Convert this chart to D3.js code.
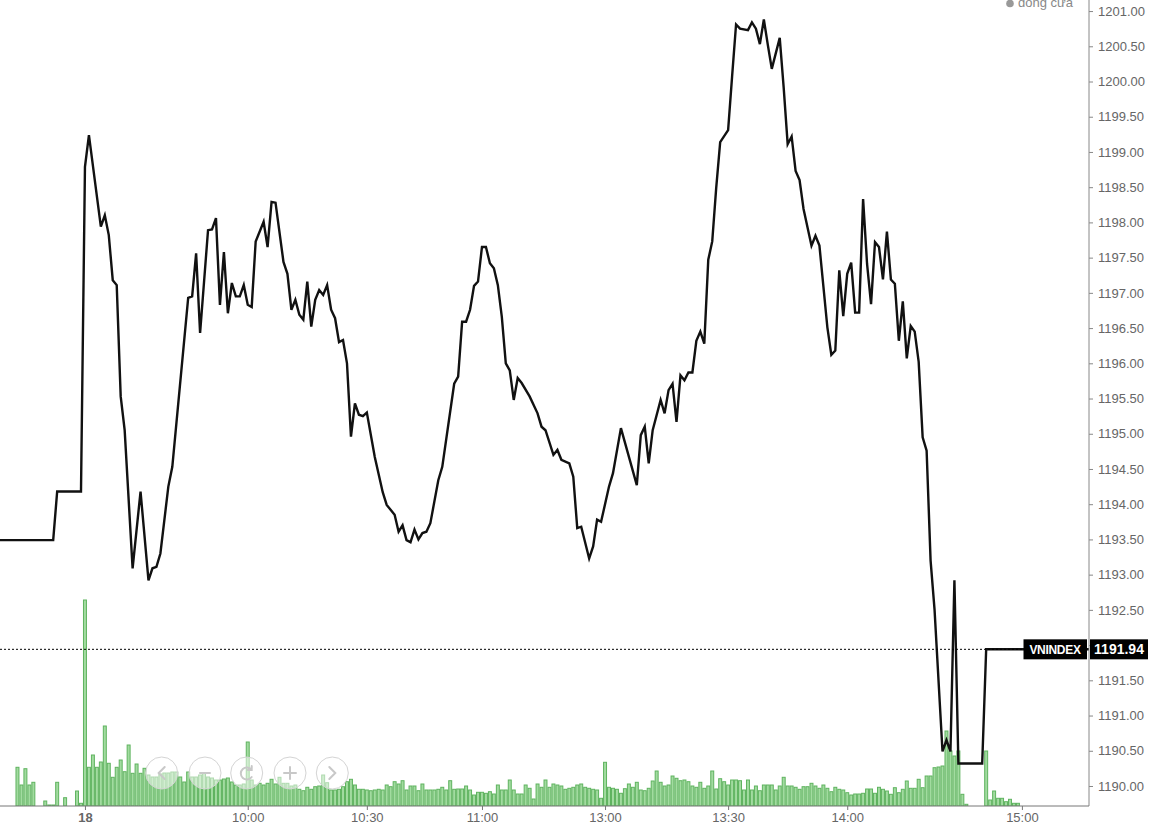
<!DOCTYPE html>
<html><head><meta charset="utf-8">
<script src="https://cdn.jsdelivr.net/npm/d3@7"></script>
<style>
html,body{margin:0;padding:0;background:#fff;}
svg{display:block;font-family:Arial,"Liberation Sans",sans-serif;}
</style></head>
<body>
<svg id="chart" width="1151" height="832"></svg>
<script>
// ---- data (slot = trading-minute index, 0 = session open on the 18th) ----
const tickSlots  = [0, 41, 71, 100, 131, 162, 192, 236];
const tickLabels = ["18", "10:00", "10:30", "11:00", "13:00", "13:30", "14:00", "15:00"];

const lineSlots = [-22,-8,-7,-1,0,1,4,5,6,7,8,9,10,12,14,16,17,18,19,21,22,26,27,28,29,31,32,33,34,35,36,37,38,39,40,41,42,43,45,46,47,48,50,51,52,53,54,55,56,57,58,59,60,61,62,63,64,65,66,67,68,69,70,71,73,75,76,78,79,80,81,82,83,84,85,86,87,89,90,93,94,95,96,97,98,99,100,101,102,103,104,105,106,107,108,109,110,112,114,115,116,118,119,120,122,123,124,125,127,128,129,130,132,133,135,139,140,141,142,143,145,146,147,148,149,150,151,152,153,154,155,156,157,158,159,160,162,163,164,165,167,168,169,170,171,172,173,175,176,177,178,179,180,181,183,184,185,187,188,189,190,191,192,193,194,195,196,197,198,199,200,201,202,203,204,205,206,207,208,209,210,211,212,213,214,216,217,218,219,220,226,227,253];
const closeValues = [1193.49,1193.49,1194.18,1194.18,1198.79,1199.24,1197.94,1198.10,1197.82,1197.18,1197.11,1195.53,1195.05,1193.09,1194.18,1192.92,1193.09,1193.11,1193.30,1194.25,1194.53,1196.93,1196.95,1197.56,1196.43,1197.89,1197.90,1198.06,1196.83,1197.58,1196.71,1197.14,1196.95,1196.95,1197.11,1196.83,1196.80,1197.73,1198.01,1197.65,1198.29,1198.28,1197.44,1197.27,1196.76,1196.90,1196.69,1196.62,1197.16,1196.52,1196.90,1197.04,1196.97,1197.11,1196.76,1196.64,1196.30,1196.33,1196.00,1194.96,1195.43,1195.27,1195.25,1195.30,1194.67,1194.17,1193.99,1193.85,1193.61,1193.70,1193.49,1193.46,1193.64,1193.50,1193.59,1193.61,1193.73,1194.34,1194.53,1195.71,1195.81,1196.59,1196.59,1196.76,1197.10,1197.16,1197.65,1197.65,1197.42,1197.35,1197.11,1196.66,1196.00,1195.90,1195.48,1195.79,1195.72,1195.53,1195.29,1195.10,1195.05,1194.70,1194.77,1194.63,1194.58,1194.39,1193.66,1193.68,1193.23,1193.40,1193.78,1193.75,1194.25,1194.44,1195.08,1194.27,1194.98,1195.10,1194.58,1195.05,1195.48,1195.29,1195.62,1195.71,1195.17,1195.83,1195.76,1195.87,1195.87,1196.32,1196.45,1196.28,1197.47,1197.73,1198.49,1199.14,1199.31,1200.07,1200.81,1200.75,1200.73,1200.84,1200.75,1200.53,1200.88,1200.52,1200.18,1200.62,1199.91,1199.11,1199.22,1198.73,1198.60,1198.19,1197.67,1197.81,1197.67,1196.51,1196.12,1196.18,1197.32,1196.67,1197.27,1197.43,1196.72,1196.72,1198.33,1197.41,1196.84,1197.72,1197.65,1197.19,1197.87,1197.19,1197.13,1196.32,1196.88,1196.07,1196.53,1196.45,1196.02,1194.95,1194.76,1193.20,1192.50,1190.49,1190.65,1190.49,1192.92,1190.32,1190.32,1191.94,1191.94];

const lastValue = 1191.94;
const seriesName = "VNINDEX";
const legendLabel = "đóng cửa";

// volume before the session (previous day tail)
const preVolSlots  = [-17,-16,-15,-14,-13,-10,-9,-8,-7,-5,-2,-1];
const preVolValues = [38.7,21,37.3,21,23.7,5,1,1,23.7,8.3,15,2.7];
// volume per minute, slot 0 .. 222
const sessionVol = [206,
 38.7,51,38.7,44,80,42.7,28.7,38.7,46,34.3,61,32.7,42,32.7,37.7,
 31,29,29,32,33,33,34,34,29,24,34,29,29,31,33,29,28,26,26,27,28,24,21,21,22,
 64,
 26,21,22.7,21,22.7,26.7,22,28.7,22.7,22.7,20,21,16.7,15.3,18.7,16.7,19.3,20,
 31,
 23.3,16,16,16.7,19.3,24.3,26.7,21,16.7,16.7,16,15.3,16,16.7,16,21,19.3,24.3,22,
 25.3,16,20,20,15.3,22,16,16,16,16.7,18.7,16,25.3,16.7,17,17,20,16,11,13.7,13.7,12.7,14.3,12,21,16,16,26,16,12,12,21,17.7,7,22,18.7,26,18.7,22,21,20,16.7,17.7,18.7,21,22,18.7,17.7,16.7,16,7.7,
 43.7,
 18.7,17.7,16.7,12.7,17.3,22,18.7,23.7,16,15.3,17.7,25,35,23.7,20,21,30,27.7,25.3,26,24.3,20,18.7,23.7,17.7,20,35,17,27.3,24.3,21,26,26,25.3,16,26,16,20,15.3,21,21,21,16,20,
 28.7,20,20,18.7,16.7,19.3,19.3,22.7,20,17.7,21,17.7,14.3,18.7,16.7,16,13.3,11,12,12,12.7,17,17,12.7,18.7,
 16.7,15,11.7,18.3,13.3,16.7,25,17.7,17.7,26.7,18.3,30,30,38.3,39,40,75,55,50,55,11.7,1.7];
// after-close volume
const postVolSlots  = [227,228,229,230,231,232,233,234,235];
const postVolValues = [55,6,15,7.7,7.7,4.3,6.7,2.7,2.7];

// ---- layout ----
const plot = {left: 0, right: 1089, top: 0, bottom: 806};
const svg = d3.select("#chart");

const x = d3.scaleLinear().domain([-21.4, 252.9]).range([plot.left, plot.right]);
const y = d3.scaleLinear().domain([1189.716, 1201.157]).range([plot.bottom, plot.top]);
const v = d3.scaleLinear().domain([0, 206]).range([plot.bottom, 600]);

svg.append("defs").append("clipPath").attr("id", "clip")
  .append("rect").attr("x", plot.left).attr("y", plot.top)
  .attr("width", plot.right - plot.left).attr("height", plot.bottom - plot.top);

const vols = [];
preVolSlots.forEach((s, i) => vols.push({s, v: preVolValues[i]}));
sessionVol.forEach((val, i) => vols.push({s: i, v: val}));
postVolSlots.forEach((s, i) => vols.push({s, v: postVolValues[i]}));

const bw = x(1) - x(0);
const gBars = svg.append("g").attr("clip-path", "url(#clip)");
gBars.selectAll("rect").data(vols).join("rect")
  .attr("x", d => x(d.s) - bw / 2 + 0.5)
  .attr("y", d => v(d.v))
  .attr("width", bw - 1)
  .attr("height", d => plot.bottom - v(d.v))
  .attr("fill", "#a2dba0")
  .attr("stroke", "#5fb35f")
  .attr("stroke-width", 1);

// nav buttons overlay
const navX = [161.7, 205, 246.7, 290, 332.3];
const gNav = svg.append("g");
navX.forEach((cx, i) => {
  const g = gNav.append("g").attr("transform", `translate(${cx},773)`);
  g.append("circle").attr("r", 16).attr("fill", "#fff").attr("fill-opacity", 0.5)
    .attr("stroke", "#d4d4d4").attr("stroke-width", 1);
  const st = {stroke: "#c8c8c8", "stroke-width": 2, fill: "none", "stroke-linecap": "round"};
  let p;
  if (i === 0) p = g.append("path").attr("d", "M3,-6 L-3,0 L3,6");
  else if (i === 1) p = g.append("path").attr("d", "M-5,0 L5,0");
  else if (i === 2) p = g.append("path").attr("d", "M5,-3 A6,6 0 1 0 5,4 M5,-7 L5,-3 L1,-3");
  else if (i === 3) p = g.append("path").attr("d", "M-6,0 L6,0 M0,-6 L0,6");
  else p = g.append("path").attr("d", "M-3,-6 L3,0 L-3,6");
  Object.entries(st).forEach(([k, val]) => p.attr(k, val));
});

// price line
const line = d3.line().x(d => x(d[0])).y(d => y(d[1]));
svg.append("path").attr("clip-path", "url(#clip)")
  .datum(lineSlots.map((s, i) => [s, closeValues[i]]))
  .attr("d", line).attr("fill", "none")
  .attr("stroke", "#111").attr("stroke-width", 2.4).attr("stroke-linejoin", "miter");

// dotted last-value line
svg.append("line").attr("x1", plot.left).attr("x2", 1024)
  .attr("y1", y(lastValue)).attr("y2", y(lastValue))
  .attr("stroke", "#000").attr("stroke-width", 1).attr("stroke-dasharray", "2,2");

// right axis
const yTicks = d3.range(1190, 1201.001, 0.5);
const yAxis = d3.axisRight(y).tickValues(yTicks).tickFormat(d3.format(".2f")).tickSize(4).tickPadding(5);
const gy = svg.append("g").attr("transform", `translate(${plot.right},0)`).call(yAxis);
gy.select(".domain").attr("stroke", "#888").attr("d", `M0,${plot.top}V${plot.bottom}`);
gy.selectAll(".tick line").attr("stroke", "#888");
gy.selectAll(".tick text").attr("fill", "#666").style("font-size", "13px")
  .style("font-family", "Arial,'Liberation Sans',sans-serif");

// bottom axis
const xAxis = d3.axisBottom(x).tickValues(tickSlots).tickFormat((d, i) => tickLabels[i]).tickSize(4).tickPadding(3);
const gx = svg.append("g").attr("transform", `translate(0,${plot.bottom})`).call(xAxis);
gx.select(".domain").attr("stroke", "#777").attr("d", `M${plot.left},0H${plot.right}`);
gx.selectAll(".tick line").attr("stroke", "#777");
gx.selectAll(".tick text").attr("fill", "#666").style("font-size", "13px")
  .style("font-family", "Arial,'Liberation Sans',sans-serif")
  .style("font-weight", (d, i) => i === 0 ? "bold" : "normal");

// series label + value label
const ly = y(lastValue);
svg.append("rect").attr("x", 1023.5).attr("y", ly - 10).attr("width", 63.5).attr("height", 20).attr("fill", "#000");
svg.append("text").attr("x", 1055).attr("y", ly + 4.5).attr("text-anchor", "middle")
  .attr("fill", "#fff").style("font-size", "12px").style("font-weight", "bold").style("letter-spacing", "-0.3px").text(seriesName);
svg.append("rect").attr("x", 1090).attr("y", ly - 10).attr("width", 58).attr("height", 20).attr("fill", "#000");
svg.append("text").attr("x", 1119).attr("y", ly + 5).attr("text-anchor", "middle")
  .attr("fill", "#fff").style("font-size", "14px").style("font-weight", "bold").text(d3.format(".2f")(lastValue));

// legend (cut at top)
svg.append("circle").attr("cx", 1010).attr("cy", 3.5).attr("r", 3.8).attr("fill", "#999");
svg.append("text").attr("x", 1018).attr("y", 7).attr("fill", "#888").style("font-size", "13px").text(legendLabel);
</script>
</body></html>
